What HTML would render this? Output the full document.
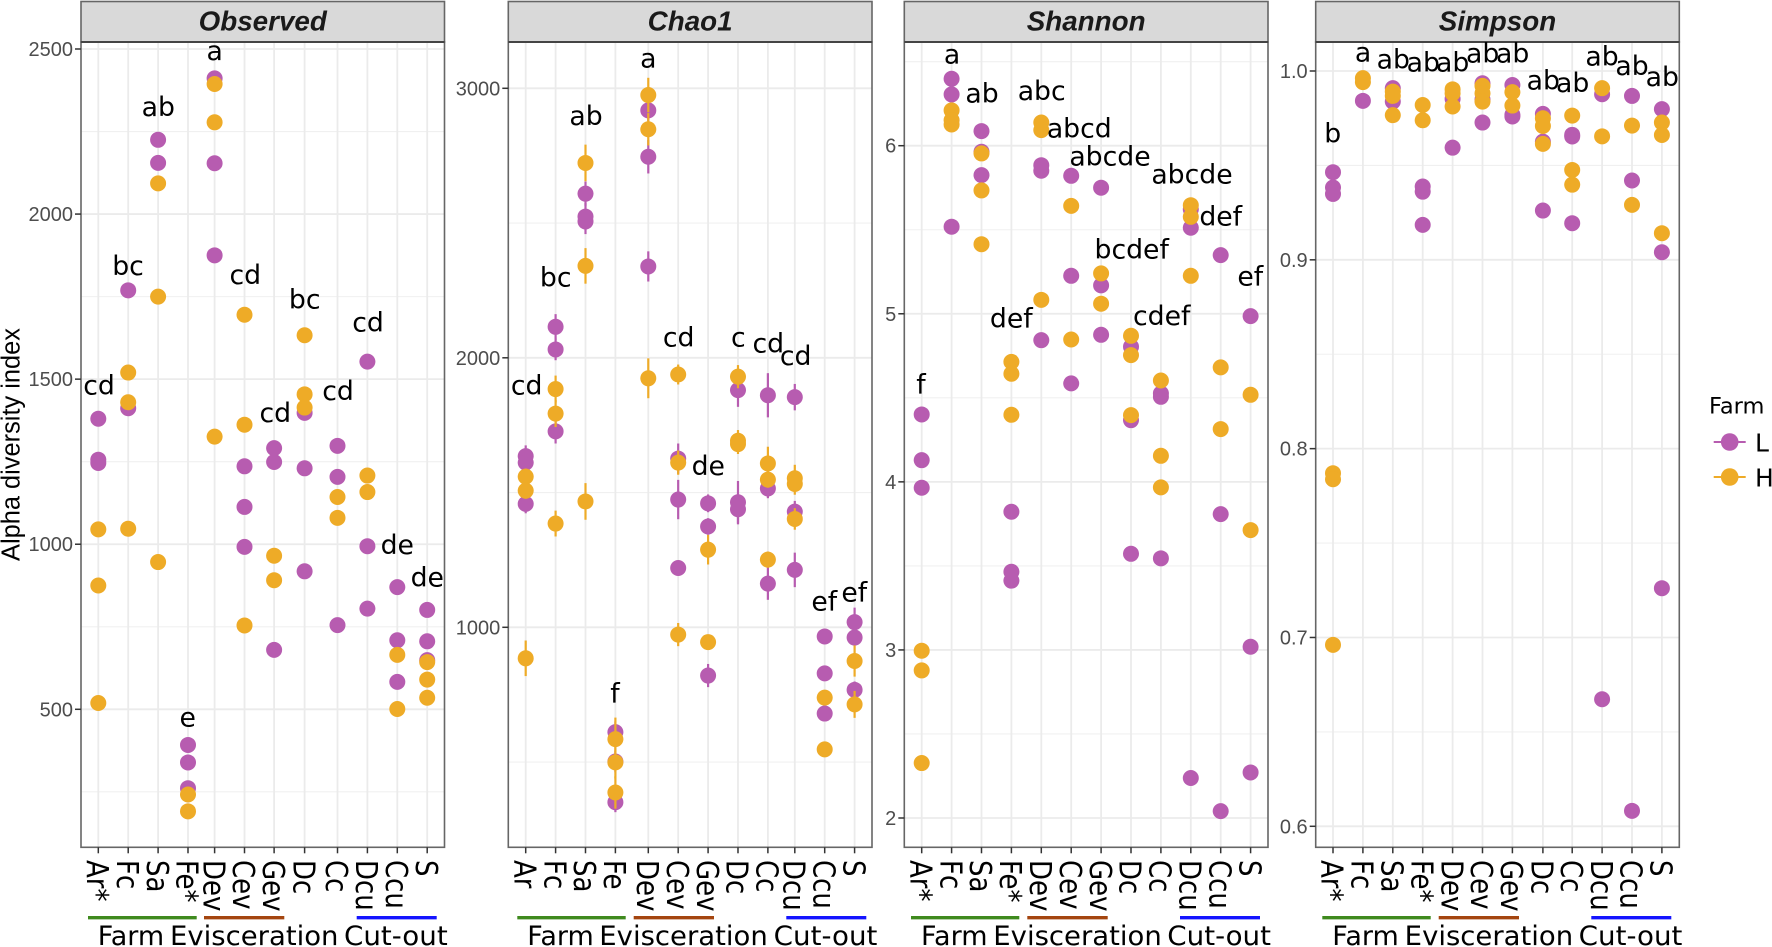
<!DOCTYPE html>
<html lang="en">
<head>
<meta charset="utf-8">
<title>Alpha diversity index by sample and farm</title>
<style>
  html, body { margin: 0; padding: 0; background: #fff; }
  svg { display: block; }
  .dv { font-family: "DejaVu Sans", "Liberation Sans", sans-serif; fill: #000; }
  .ls { font-family: "Liberation Sans", sans-serif; }
  .letter { font-family: "DejaVu Sans", "Liberation Sans", sans-serif; font-size: 26.7px; fill: #000; text-anchor: middle; }
  .group-text { font-family: "DejaVu Sans", "Liberation Sans", sans-serif; font-size: 27px; fill: #000; }
</style>
</head>
<body>
<svg id="chart" xmlns="http://www.w3.org/2000/svg" width="1772" height="947" viewBox="0 0 1772 947">
  <rect x="0" y="0" width="1772" height="947" fill="#fff"/>
  <g id="panels"></g>

  <text class="ls" transform="translate(19.5,444.5) rotate(-90)" text-anchor="middle" font-size="25.5" fill="#000" textLength="233" lengthAdjust="spacingAndGlyphs">Alpha diversity index</text>

  <g id="letters-observed">
    <text class="letter" x="99" y="394.3">cd</text>
    <text class="letter" x="128" y="275">bc</text>
    <text class="letter" x="158.3" y="116">ab</text>
    <text class="letter" x="187.7" y="726.7">e</text>
    <text class="letter" x="214.7" y="60">a</text>
    <text class="letter" x="245.3" y="284">cd</text>
    <text class="letter" x="275.3" y="422">cd</text>
    <text class="letter" x="304.7" y="308.3">bc</text>
    <text class="letter" x="338" y="400">cd</text>
    <text class="letter" x="368" y="331.7">cd</text>
    <text class="letter" x="397.3" y="554">de</text>
    <text class="letter" x="427.3" y="586.7">de</text>
  </g>
  <g id="letters-chao1">
    <text class="letter" x="526.7" y="394.3">cd</text>
    <text class="letter" x="555.7" y="286.7">bc</text>
    <text class="letter" x="586" y="125">ab</text>
    <text class="letter" x="615" y="702.7">f</text>
    <text class="letter" x="648.3" y="67.7">a</text>
    <text class="letter" x="678.7" y="346.7">cd</text>
    <text class="letter" x="708.3" y="475">de</text>
    <text class="letter" x="738.3" y="346.7">c</text>
    <text class="letter" x="768.3" y="352.7">cd</text>
    <text class="letter" x="795.7" y="365">cd</text>
    <text class="letter" x="824.3" y="610.7">ef</text>
    <text class="letter" x="854.3" y="601.7">ef</text>
  </g>
  <g id="letters-shannon">
    <text class="letter" x="921" y="393.3">f</text>
    <text class="letter" x="952" y="63.3">a</text>
    <text class="letter" x="982" y="102.7">ab</text>
    <text class="letter" x="1011.3" y="327.3">def</text>
    <text class="letter" x="1041.7" y="100">abc</text>
    <text class="letter" x="1079.3" y="137.3">abcd</text>
    <text class="letter" x="1110" y="165.7">abcde</text>
    <text class="letter" x="1131.7" y="258.7">bcdef</text>
    <text class="letter" x="1161.7" y="325">cdef</text>
    <text class="letter" x="1192" y="183.7">abcde</text>
    <text class="letter" x="1220.7" y="225.7">def</text>
    <text class="letter" x="1250.3" y="285.3">ef</text>
  </g>
  <g id="letters-simpson">
    <text class="letter" x="1332.7" y="142.7">b</text>
    <text class="letter" x="1363" y="61.7">a</text>
    <text class="letter" x="1393.3" y="68.3">ab</text>
    <text class="letter" x="1423.3" y="71.7">ab</text>
    <text class="letter" x="1452.7" y="71.7">ab</text>
    <text class="letter" x="1482.7" y="62.3">ab</text>
    <text class="letter" x="1512.7" y="62.3">ab</text>
    <text class="letter" x="1543.3" y="89.3">ab</text>
    <text class="letter" x="1572.7" y="92">ab</text>
    <text class="letter" x="1602" y="65.7">ab</text>
    <text class="letter" x="1632" y="75">ab</text>
    <text class="letter" x="1662.3" y="86">ab</text>
  </g>

  <g id="group-labels">
    <line x1="88" x2="196.7" y1="917.7" y2="917.7" stroke="#3f8a1e" stroke-width="3.4"/>
    <line x1="204" x2="284.3" y1="917.7" y2="917.7" stroke="#a4450f" stroke-width="3.4"/>
    <line x1="356.7" x2="436.7" y1="917.7" y2="917.7" stroke="#1414ff" stroke-width="3.4"/>
    <text class="group-text" x="97.7" y="945" textLength="66.5" lengthAdjust="spacingAndGlyphs">Farm</text>
    <text class="group-text" x="170" y="945" textLength="168.5" lengthAdjust="spacingAndGlyphs">Evisceration</text>
    <text class="group-text" x="344" y="945" textLength="103.7" lengthAdjust="spacingAndGlyphs">Cut-out</text>

    <line x1="517.3" x2="625.7" y1="917.7" y2="917.7" stroke="#3f8a1e" stroke-width="3.4"/>
    <line x1="633.7" x2="714" y1="917.7" y2="917.7" stroke="#a4450f" stroke-width="3.4"/>
    <line x1="786.3" x2="866.3" y1="917.7" y2="917.7" stroke="#1414ff" stroke-width="3.4"/>
    <text class="group-text" x="527.3" y="945" textLength="66.5" lengthAdjust="spacingAndGlyphs">Farm</text>
    <text class="group-text" x="599.3" y="945" textLength="168.5" lengthAdjust="spacingAndGlyphs">Evisceration</text>
    <text class="group-text" x="773.7" y="945" textLength="103.7" lengthAdjust="spacingAndGlyphs">Cut-out</text>

    <line x1="911" x2="1019.3" y1="917.7" y2="917.7" stroke="#3f8a1e" stroke-width="3.4"/>
    <line x1="1027.3" x2="1107.7" y1="917.7" y2="917.7" stroke="#a4450f" stroke-width="3.4"/>
    <line x1="1180" x2="1260" y1="917.7" y2="917.7" stroke="#1414ff" stroke-width="3.4"/>
    <text class="group-text" x="921" y="945" textLength="66.5" lengthAdjust="spacingAndGlyphs">Farm</text>
    <text class="group-text" x="993.3" y="945" textLength="168.5" lengthAdjust="spacingAndGlyphs">Evisceration</text>
    <text class="group-text" x="1167.3" y="945" textLength="103.7" lengthAdjust="spacingAndGlyphs">Cut-out</text>

    <line x1="1322.3" x2="1430.7" y1="917.7" y2="917.7" stroke="#3f8a1e" stroke-width="3.4"/>
    <line x1="1438.7" x2="1519" y1="917.7" y2="917.7" stroke="#a4450f" stroke-width="3.4"/>
    <line x1="1591.3" x2="1671.3" y1="917.7" y2="917.7" stroke="#1414ff" stroke-width="3.4"/>
    <text class="group-text" x="1332.3" y="945" textLength="66.5" lengthAdjust="spacingAndGlyphs">Farm</text>
    <text class="group-text" x="1404.7" y="945" textLength="168.5" lengthAdjust="spacingAndGlyphs">Evisceration</text>
    <text class="group-text" x="1578.7" y="945" textLength="103.7" lengthAdjust="spacingAndGlyphs">Cut-out</text>
  </g>

  <g id="legend">
    <text class="dv" x="1709" y="413.3" font-size="22.5">Farm</text>
    <g>
      <line x1="1713.7" x2="1745.7" y1="442" y2="442" stroke="#b75cb0" stroke-width="2"/>
      <circle cx="1729.7" cy="442" r="8.8" fill="#b75cb0"/>
      <text class="dv" x="1755" y="451.7" font-size="25">L</text>
    </g>
    <g>
      <line x1="1713.7" x2="1745.7" y1="477" y2="477" stroke="#eeab27" stroke-width="2"/>
      <circle cx="1729.7" cy="477" r="8.8" fill="#eeab27"/>
      <text class="dv" x="1755" y="486.7" font-size="25">H</text>
    </g>
  </g>
</svg>

<script>
// ---- Category labels ----
const categoriesStarred = ['Ar*','Fc','Sa','Fe*','Dev','Cev','Gev','Dc','Cc','Dcu','Ccu','S'];
const categoriesPlain = ['Ar','Fc','Sa','Fe','Dev','Cev','Gev','Dc','Cc','Dcu','Ccu','S'];

// ---- Category order along each x axis, in category units ----
const observedOrder = [0,1,2,3,3.89,4.89,5.88,6.9,8,9,10,11];
const chao1Order = [0,1,2,3,4.1,5.1,6.1,7.1,8.1,9,10,11];
const shannonOrder = [0,1,2,3,4,5,6,7,8,9,10,11];
const simpsonOrder = [0,1,2,3,4,5,6,7.02,8,9,10,11];

// ---- Observed ----
const observedTicks = [500,1000,1500,2000,2500];
const observedTickLabels = ['500','1000','1500','2000','2500'];
const observedMinor = [250,750,1250,1750,2250];
const observedL = [[1380,1256,1246],[1769,1412],[2225,2155],[392,339,261],[2411,2154,1875],[1236,1113,992],[1291,1249,680],[1398,1230,918],[1298,1204,755],[1553,994,805],[870,709,583],[801,706,649]];
const observedH = [[1045,875,519],[1520,1430,1047],[2093,1750,946],[242,191],[2394,2278,1326],[1695,1362,754],[965,891],[1633,1454,1414],[1143,1080],[1208,1158],[665,501],[643,590,535]];

// ---- Chao1 ----
const chao1Ticks = [1000,2000,3000];
const chao1TickLabels = ['1000','2000','3000'];
const chao1Minor = [500,1500,2500];
const chao1L = [[1635,1611,1458],[2115,2031,1727],[2609,2524,2506],[611,502,351],[2918,2746,2339],[1626,1474,1220],[1460,1374,821],[1880,1464,1438],[1861,1515,1162],[1854,1429,1213],[966,829,680],[1019,962,768]];
const chao1LErr = [[40,30,35],[47,40,45],[45,50,47],[40,40,37],[40,62,56],[56,73,27],[33,31,43],[62,79,56],[82,36,60],[49,40,64],[5,5,5],[54,30,31]];
const chao1H = [[1559,1507,885],[1884,1793,1385],[2723,2341,1467],[585,499,387],[2975,2848,1924],[1938,1611,973],[1288,945],[1930,1692,1680],[1608,1548,1251],[1553,1532,1402],[739,547],[875,714]];
const chao1HErr = [[30,30,66],[50,50,48],[68,66,68],[80,60,60],[64,60,74],[37,45,43],[55,8],[43,40,37],[62,30,30],[50,40,40],[5,5],[58,50]];

// ---- Shannon ----
const shannonTicks = [2,3,4,5,6];
const shannonTickLabels = ['2','3','4','5','6'];
const shannonMinor = [2.5,3.5,4.5,5.5,6.5];
const shannonL = [[4.401,4.129,3.965],[6.398,6.305,5.518],[6.087,5.964,5.825],[3.822,3.465,3.412],[5.884,5.851,4.843],[5.821,5.226,4.586],[5.75,5.169,4.875],[4.804,4.367,3.572],[4.526,4.506,3.545],[5.621,5.512,2.238],[5.349,3.808,2.041],[4.986,3.019,2.271]];
const shannonH = [[2.995,2.878,2.327],[6.21,6.152,6.126],[5.954,5.734,5.414],[4.714,4.643,4.399],[6.138,6.093,5.083],[5.642,4.847],[5.24,5.06],[4.869,4.754,4.397],[4.603,4.155,3.967],[5.646,5.577,5.226],[4.681,4.314],[4.518,3.713]];

// ---- Simpson ----
const simpsonTicks = [0.6,0.7,0.8,0.9,1.0];
const simpsonTickLabels = ['0.6','0.7','0.8','0.9','1.0'];
const simpsonMinor = [0.65,0.75,0.85,0.95];
const simpsonL = [[0.9464,0.9383,0.9349],[0.9842],[0.9909,0.9838],[0.9388,0.9361,0.9185],[0.9852,0.9594],[0.9935,0.985,0.9727],[0.9926,0.9768,0.9759],[0.9773,0.9626,0.9261],[0.9662,0.9653,0.9194],[0.9877,0.6673],[0.9868,0.942,0.6082],[0.9798,0.904,0.7261]];
const simpsonH = [[0.787,0.7838,0.6961],[0.9962,0.9941],[0.9891,0.9868,0.9766],[0.982,0.9739],[0.9903,0.9882,0.9812],[0.9921,0.9882,0.9838],[0.9888,0.9817],[0.975,0.9709,0.9614],[0.9764,0.9476,0.9398],[0.9909,0.9654],[0.9711,0.9291],[0.9727,0.9661,0.9141]];

const SVG_NS = 'http://www.w3.org/2000/svg';
const colourL = '#b75cb0';
const colourH = '#eeab27';
const stripTop = 1.5;
const panelTop = 42;
const panelBottom = 847.3;
const categoryStep = 29.9;

function shape(tag, attrs, parent) {
  const el = document.createElementNS(SVG_NS, tag);
  for (const k in attrs) el.setAttribute(k, attrs[k]);
  parent.appendChild(el);
  return el;
}

function xAxis(frame) {
  return function (position) { return frame.firstX + categoryStep * position; };
}
function yAxis(frame) {
  const slope = (frame.pixelB - frame.pixelA) / (frame.valueB - frame.valueA);
  return function (value) { return frame.pixelA + (value - frame.valueA) * slope; };
}

function drawSeries(group, values, errors, x, y, order, colour, seriesName) {
  values.forEach(function (list, c) {
    list.forEach(function (v, i) {
      const cx = x(order[c]);
      if (errors) {
        const err = errors[c][i];
        const bar = shape('line', { x1: cx, x2: cx, y1: y(v - err), y2: y(v + err), stroke: colour, 'stroke-width': 2.2 }, group);
        
        
      }
    });
  });
  values.forEach(function (list, c) {
    list.forEach(function (v) {
      const dot = shape('circle', { cx: x(order[c]), cy: y(v), r: 8, fill: colour }, group);
      
      
    });
  });
}

function drawPanel(cfg) {
  const root = document.getElementById('panels');
  const g = shape('g', {}, root);
  
  
  const x = xAxis(cfg);
  const y = yAxis(cfg);

  const panelBg = shape('rect', { x: cfg.left, y: panelTop, width: cfg.right - cfg.left, height: panelBottom - panelTop, fill: '#fff' }, g);
  
  

  cfg.minor.forEach(function (v) {
    const line = shape('line', { x1: cfg.left, x2: cfg.right, y1: y(v), y2: y(v), stroke: '#f0f0f0', 'stroke-width': 1.1 }, g);
    
    
  });
  cfg.ticks.forEach(function (v) {
    const line = shape('line', { x1: cfg.left, x2: cfg.right, y1: y(v), y2: y(v), stroke: '#ebebeb', 'stroke-width': 1.8 }, g);
    
    
  });
  cfg.order.forEach(function (p) {
    const line = shape('line', { x1: x(p), x2: x(p), y1: panelTop, y2: panelBottom, stroke: '#ebebeb', 'stroke-width': 1.8 }, g);
    
    
  });

  const seriesL = shape('g', {}, g);
  
  
  drawSeries(seriesL, cfg.L, cfg.LErr, x, y, cfg.order, colourL, 'l');

  const seriesH = shape('g', {}, g);
  
  
  drawSeries(seriesH, cfg.H, cfg.HErr, x, y, cfg.order, colourH, 'h');

  const border = shape('rect', { x: cfg.left, y: panelTop, width: cfg.right - cfg.left, height: panelBottom - panelTop, fill: 'none', stroke: '#666', 'stroke-width': 1.6 }, g);
  
  

  const strip = shape('rect', { x: cfg.left, y: stripTop, width: cfg.right - cfg.left, height: panelTop - stripTop, fill: '#d9d9d9', stroke: '#666', 'stroke-width': 1.6 }, g);
  
  

  const stripEdge = shape('line', { x1: cfg.left, x2: cfg.right, y1: panelTop, y2: panelTop, stroke: '#444', 'stroke-width': 2 }, g);
  
  

  const stripText = shape('text', { x: (cfg.left + cfg.right) / 2, y: 30.7, 'text-anchor': 'middle', 'font-family': '"Liberation Sans", sans-serif', 'font-weight': 'bold', 'font-style': 'italic', 'font-size': 27.8, fill: '#1a1a1a' }, g);
  stripText.textContent = cfg.title;
  
  

  cfg.ticks.forEach(function (v, i) {
    const tick = shape('line', { x1: cfg.left - 6, x2: cfg.left, y1: y(v), y2: y(v), stroke: '#333', 'stroke-width': 1.5 }, g);
    
    
    const label = shape('text', { x: cfg.left - 8, y: y(v) + 7, 'text-anchor': 'end', 'font-family': '"Liberation Sans", sans-serif', 'font-size': 20, fill: '#4d4d4d' }, g);
    label.textContent = cfg.tickLabels[i];
    
    
  });

  cfg.categories.forEach(function (name, i) {
    const px = x(cfg.order[i]);
    const tick = shape('line', { x1: px, x2: px, y1: panelBottom, y2: panelBottom + 6, stroke: '#333', 'stroke-width': 1.5 }, g);
    
    
    const label = shape('text', { transform: 'translate(' + (px - 11.3) + ',860) rotate(90) scale(1,1.18)', 'font-family': '"DejaVu Sans", sans-serif', 'font-size': 26, fill: '#000' }, g);
    label.textContent = name;
    
    
  });
}

drawPanel({ title: 'Observed', categories: categoriesStarred, order: observedOrder, L: observedL, H: observedH, LErr: null, HErr: null, ticks: observedTicks, tickLabels: observedTickLabels, minor: observedMinor, left: 81, right: 444.5, firstX: 98.3, valueA: 500, pixelA: 709.3, valueB: 2500, pixelB: 49 });
drawPanel({ title: 'Chao1', categories: categoriesPlain, order: chao1Order, L: chao1L, H: chao1H, LErr: chao1LErr, HErr: chao1HErr, ticks: chao1Ticks, tickLabels: chao1TickLabels, minor: chao1Minor, left: 508.3, right: 872, firstX: 525.7, valueA: 1000, pixelA: 627.3, valueB: 3000, pixelB: 88.3 });
drawPanel({ title: 'Shannon', categories: categoriesStarred, order: shannonOrder, L: shannonL, H: shannonH, LErr: null, HErr: null, ticks: shannonTicks, tickLabels: shannonTickLabels, minor: shannonMinor, left: 904.3, right: 1268, firstX: 921.7, valueA: 2, pixelA: 818, valueB: 6, pixelB: 145.7 });
drawPanel({ title: 'Simpson', categories: categoriesStarred, order: simpsonOrder, L: simpsonL, H: simpsonH, LErr: null, HErr: null, ticks: simpsonTicks, tickLabels: simpsonTickLabels, minor: simpsonMinor, left: 1315.7, right: 1679.3, firstX: 1333, valueA: 0.6, pixelA: 826.3, valueB: 1.0, pixelB: 71 });
</script>
</body>
</html>
